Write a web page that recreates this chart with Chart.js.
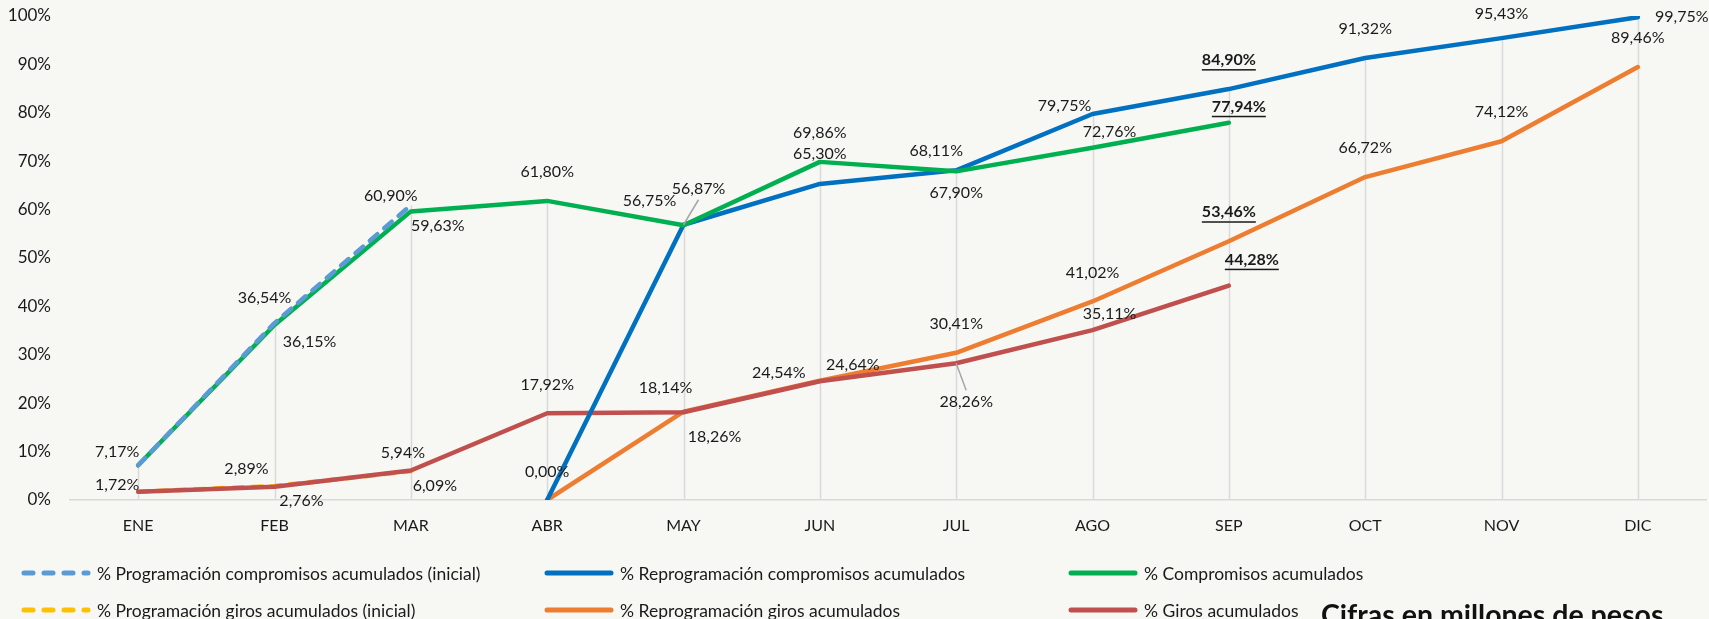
<!DOCTYPE html>
<html>
<head>
<meta charset="utf-8">
<script src="https://cdn.jsdelivr.net/npm/chart.js@4.4.1/dist/chart.umd.min.js"></script>
<style>
html, body { margin: 0; padding: 0; background: #F7F8F4; }
#wrap { position: relative; width: 1709px; height: 619px; overflow: hidden; font-family: Lato, sans-serif; color: #1a1a1a; }
#chart { position: absolute; left: 0; top: 0; }
.leg { position: absolute; display: flex; align-items: center; font-size: 17.5px; white-space: nowrap; }
.leg svg { margin-right: 6px; }
#note { position: absolute; left: 1321px; top: 600px; font-size: 28.5px; line-height: 28px; font-weight: bold; white-space: nowrap; color: #111; }
</style>
</head>
<body>
<div id="wrap">
  <canvas id="chart" width="1709" height="619"></canvas>
  <div id="legend"></div>
  <div id="note">Cifras en millones de pesos</div>
</div>
<script>
const months = ["ENE", "FEB", "MAR", "ABR", "MAY", "JUN", "JUL", "AGO", "SEP", "OCT", "NOV", "DIC"];
const yTicks = [0, 10, 20, 30, 40, 50, 60, 70, 80, 90, 100];

const progCompIni  = [7.17, 36.54, 60.90, null, null, null, null, null, null, null, null, null];
const reprogComp   = [null, null, null, 0.00, 56.87, 65.30, 68.11, 79.75, 84.90, 91.32, 95.43, 99.75];
const compromisos  = [7.17, 36.15, 59.63, 61.80, 56.75, 69.86, 67.90, 72.76, 77.94, null, null, null];
const progGirosIni = [1.72, 2.89, 5.94, null, null, null, null, null, null, null, null, null];
const reprogGiros  = [null, null, null, 0.00, 18.26, 24.64, 30.41, 41.02, 53.46, 66.72, 74.12, 89.46];
const giros        = [1.72, 2.76, 6.09, 17.92, 18.14, 24.54, 28.26, 35.11, 44.28, null, null, null];

// last reported month, labels shown bold + underlined
const cutIndex = 8;

// label placement: [dx, dy] from the point to the label centre, null = no label
const posProgCompIni = [null, [-10, -25], [-20, -9]];
const posCompromisos = [[-21, -13], [35, 17], [27, 14], [0, -29], [-34, -24], [0, -29], [0, 21], [17, -16], [10, -16]];
const posReprogComp = [null, null, null, [0, -28], [15, -36], [0, -30], [-20, -20], [-28, -8], [0, -29], [0, -29], [0, -24], [44, 0]];
const posProgGirosIni = [null, [-28, -17], [-8, -18]];
const posGiros = [[-21, -7], [27, 14], [24, 15], [0, -28], [-18, -24], [-41, -8], [10, 39], [17, -16], [23, -26]];
const posReprogGiros = [null, null, null, null, [31, 25], [33, -16], [0, -29], [0, -29], [0, -29], [0, -29], [0, -29], [0, -29]];

const BLUE_DASH = "#5B9BD5", BLUE = "#0070C0", GREEN = "#00B050";
const YELLOW = "#FFC000", ORANGE = "#ED7D31", RED = "#C0504D";

function line(label, data, color, pos, dashed, leaders) {
    return {
        label: label,
        data: data,
        borderColor: color,
        backgroundColor: color,
        borderWidth: 4.5,
        borderDash: dashed ? [10, 9] : [],
        borderCapStyle: "round",
        borderJoinStyle: "round",
        pointRadius: 0,
        tension: 0,
        spanGaps: false,
        labelPos: pos,
        leaders: leaders || [],
        dashed: dashed
    };
}

// draw order: first dataset ends up on top
const datasets = [
    line("% Programación compromisos acumulados (inicial)", progCompIni, BLUE_DASH, posProgCompIni, true),
    line("% Compromisos acumulados", compromisos, GREEN, posCompromisos, false),
    line("% Reprogramación compromisos acumulados", reprogComp, BLUE, posReprogComp, false, [4]),
    line("% Giros acumulados", giros, RED, posGiros, false, [6]),
    line("% Reprogramación giros acumulados", reprogGiros, ORANGE, posReprogGiros, false),
    line("% Programación giros acumulados (inicial)", progGirosIni, YELLOW, posProgGirosIni, true)
];

function fmt(v) {
    return v.toFixed(2).replace(".", ",") + "%";
}

// vertical drop lines from the axis up to the highest value of each month
const dropLines = {
    id: "dropLines",
    beforeDatasetsDraw(chart) {
        const ctx = chart.ctx;
        const x = chart.scales.x, y = chart.scales.y;
        ctx.save();
        ctx.strokeStyle = "#D9D9D9";
        ctx.lineWidth = 1.5;
        months.forEach((m, j) => {
            let top = null;
            chart.data.datasets.forEach(ds => {
                const v = ds.data[j];
                if (v != null && (top == null || v > top)) top = v;
            });
            if (top == null) return;
            const px = Math.round(x.getPixelForValue(j)) + 0.5;
            ctx.beginPath();
            ctx.moveTo(px, y.getPixelForValue(0));
            ctx.lineTo(px, y.getPixelForValue(top));
            ctx.stroke();
        });
        ctx.restore();
    }
};

const pointLabels = {
    id: "pointLabels",
    afterDatasetsDraw(chart) {
        const ctx = chart.ctx;
        ctx.save();
        ctx.textAlign = "center";
        ctx.textBaseline = "middle";
        chart.data.datasets.forEach((ds, i) => {
            const meta = chart.getDatasetMeta(i);
            meta.data.forEach((pt, j) => {
                const v = ds.data[j];
                const p = ds.labelPos[j];
                if (v == null || !p) return;
                const lx = pt.x + p[0], ly = pt.y + p[1];
                if (ds.leaders.includes(j)) {
                    ctx.strokeStyle = "#A6A6A6";
                    ctx.lineWidth = 1.5;
                    ctx.beginPath();
                    ctx.moveTo(pt.x, pt.y);
                    ctx.lineTo(lx, ly + (p[1] < 0 ? 11 : -12));
                    ctx.stroke();
                }
                const bold = j === cutIndex && !ds.dashed;
                ctx.font = (bold ? "bold " : "") + "16px Lato";
                ctx.fillStyle = "#1a1a1a";
                const text = fmt(v);
                ctx.fillText(text, lx, ly);
                if (bold) {
                    const w = ctx.measureText(text).width;
                    ctx.fillRect(lx - w / 2, ly + 9, w, 1.5);
                }
            });
        });
        ctx.restore();
    }
};

new Chart(document.getElementById("chart"), {
    type: "line",
    data: { labels: months, datasets: datasets },
    options: {
        responsive: false,
        animation: false,
        layout: { padding: { top: 16, right: 3, left: 0, bottom: 79 } },
        plugins: { legend: { display: false }, tooltip: { enabled: false } },
        scales: {
            x: {
                offset: true,
                grid: { display: false, drawTicks: false },
                border: { display: true, color: "#D9D9D9", width: 1.5 },
                ticks: { font: { family: "Lato", size: 16 }, color: "#1a1a1a", padding: 16 },
                afterFit: s => { s.height = 40; }
            },
            y: {
                min: 0,
                max: 100,
                afterBuildTicks: s => { s.ticks = yTicks.map(v => ({ value: v })); },
                grid: { display: false, drawTicks: false },
                border: { display: false },
                ticks: { font: { family: "Lato", size: 17 }, color: "#1a1a1a", padding: 19, callback: v => v + "%" },
                afterFit: s => { s.width = 70; s.paddingTop = 0; s.paddingBottom = 0; }
            }
        }
    },
    plugins: [dropLines, pointLabels]
});

// legend, two rows of three, in the reference's order
const legendItems = [
    [0, 0, 0], [2, 0, 1], [1, 0, 2],
    [5, 1, 0], [4, 1, 1], [3, 1, 2]
];
const colX = [21, 544, 1068];
const rowY = [573, 610];
const legend = document.getElementById("legend");
legendItems.forEach(([di, row, col]) => {
    const ds = datasets[di];
    const el = document.createElement("div");
    el.className = "leg";
    el.style.left = colX[col] + "px";
    el.style.top = (rowY[row] - 10) + "px";
    el.style.height = "20px";
    const dash = ds.dashed ? ' stroke-dasharray="9 11"' : "";
    el.innerHTML = '<svg width="70" height="8"><line x1="3" y1="4" x2="67" y2="4" stroke="' + ds.borderColor +
        '" stroke-width="5" stroke-linecap="round"' + dash + '/></svg><span>' + ds.label + '</span>';
    legend.appendChild(el);
});
</script>
</body>
</html>
